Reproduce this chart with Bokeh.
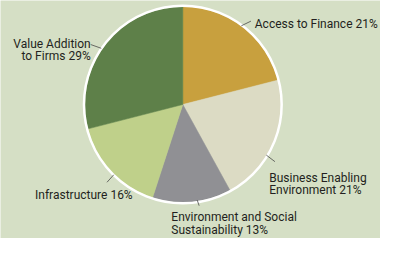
import numpy as np
from bokeh.plotting import figure
from bokeh.models import Range1d, ColumnDataSource
from bokeh.embed import file_html
from bokeh.resources import INLINE
from bokeh.core.properties import value

# ---- data ----
categories = ["Access to Finance", "Business Enabling Environment",
              "Environment and Social Sustainability", "Infrastructure",
              "Value Addition to Firms"]
shares = [21, 21, 13, 16, 29]
colors = ["#c8a03e", "#dcdbc4", "#909094", "#bfd08a", "#5e8049"]

# ---- layout / style (reference pixel coords, y downward) ----
BG = "#d5dfc5"
TEXT = "#231f20"
CX, CY, R = 190, 111, 102
words_first_line = [None, 2, 3, None, 2]
label_x = [265, 280, 178, 36, 94]
label_y = [25, 189, 231, 208, 46]
label_align = ["left", "left", "left", "left", "right"]
leader_from = [(251, 27), (277, 165), (205, 213), (111, 194), (94, 47)]
leader_to = [(261, 22), (286, 172), (207, 219), (118, 186), (105, 51)]
LINE_GAP = 13.5
FONT = "Roboto"
FSIZE = "12px"

p = figure(width=380, height=238, x_range=Range1d(0, 396), y_range=Range1d(-254, 0),
           output_backend="svg", toolbar_location=None, min_border=0)
p.axis.visible = False
p.grid.visible = False
p.outline_line_color = None
p.background_fill_color = BG
p.border_fill_color = BG

vals = np.array(shares, dtype=float)
cum = np.concatenate([[0], np.cumsum(vals)]) / vals.sum()
start = np.pi / 2 - 2 * np.pi * cum[1:]
end = np.pi / 2 - 2 * np.pi * cum[:-1]

src = ColumnDataSource(dict(start=start, end=end, color=colors))
p.wedge(x=CX, y=-CY, radius=R, start_angle="start", end_angle="end",
        direction="anticlock", fill_color="color", line_color="color",
        line_width=0.5, source=src)
p.circle(x=CX, y=-CY, radius=R + 1, fill_color=None, line_color="white", line_width=2.5)

# leaders
p.segment(x0=[a[0] for a in leader_from], y0=[-a[1] for a in leader_from],
          x1=[b[0] for b in leader_to], y1=[-b[1] for b in leader_to],
          line_color="#4a4a4a", line_width=0.8)

# labels
for cat, sh, n, lx, ly, al in zip(categories, shares, words_first_line,
                                   label_x, label_y, label_align):
    words = f"{cat} {sh}%".split(" ")
    lines = [" ".join(words)] if n is None else [" ".join(words[:n]), " ".join(words[n:])]
    for k, ln in enumerate(lines):
        p.text(x=[lx], y=[-(ly + k * LINE_GAP)], text=[ln], text_align=al,
               text_baseline="alphabetic", text_font=value(FONT),
               text_font_size=FSIZE, text_color=TEXT)

open("out.html", "w").write(file_html(p, INLINE))
